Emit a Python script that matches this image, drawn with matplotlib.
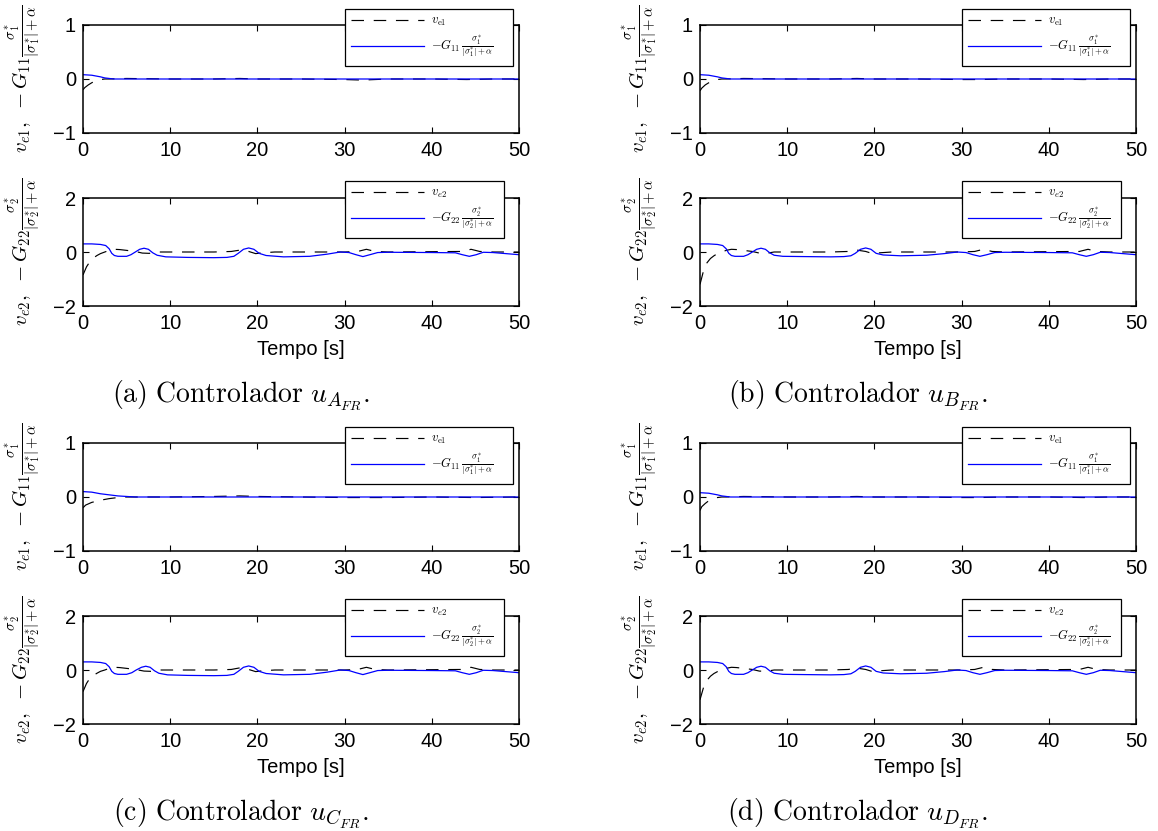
import matplotlib
matplotlib.use("Agg")
import matplotlib.pyplot as plt

plt.rcParams['mathtext.fontset'] = 'cm'
plt.rcParams['font.family'] = ['Liberation Sans', 'DejaVu Sans']
plt.rcParams['lines.scale_dashes'] = False

# ---------------- data ----------------
# top panels: v_e1 (black dashed) and -G11 term (blue)
te1_a = [0, 0.2, 0.6, 1.0, 1.5, 2.0, 2.5, 3.0, 5, 10, 15, 18, 20, 25, 30, 32, 35, 40, 44, 47, 50]
ve1_a = [-0.2, -0.16, -0.11, -0.07, -0.03, -0.01, 0.0, 0.0, 0.01, 0.0, 0.0, 0.01, 0.0, 0.0, -0.01, -0.02, 0.0, 0.0, -0.01, 0.0, 0.0]
tg1_a = [0, 1.0, 2.0, 2.5, 3.0, 3.5, 5, 10, 20, 30, 40, 50]
g1_a = [0.08, 0.07, 0.04, 0.02, 0.01, 0.0, 0.0, 0.0, 0.0, 0.0, 0.0, 0.0]

te1_b = [0, 0.2, 0.6, 1.0, 1.5, 2.0, 2.5, 3.0, 5, 10, 15, 18, 20, 25, 30, 32, 35, 40, 44, 47, 50]
ve1_b = [-0.22, -0.17, -0.11, -0.07, -0.03, -0.01, 0.0, 0.0, 0.01, 0.0, 0.0, 0.01, 0.0, 0.0, -0.01, -0.01, 0.0, 0.0, -0.01, 0.0, 0.0]
tg1_b = [0, 1.0, 2.0, 2.5, 3.0, 3.5, 5, 10, 20, 30, 40, 50]
g1_b = [0.08, 0.07, 0.04, 0.02, 0.01, 0.0, 0.0, 0.0, 0.0, 0.0, 0.0, 0.0]

te1_c = [0, 0.3, 1.0, 2.0, 3.0, 4.0, 5.0, 10, 15, 18, 20, 25, 30, 35, 40, 45, 50]
ve1_c = [-0.2, -0.15, -0.1, -0.06, -0.03, -0.01, 0.0, 0.0, 0.01, 0.02, 0.01, 0.0, -0.01, -0.01, 0.0, -0.01, 0.0]
tg1_c = [0, 1.0, 2.0, 3.0, 4.0, 5.0, 6.0, 10, 20, 30, 40, 50]
g1_c = [0.1, 0.09, 0.06, 0.04, 0.02, 0.01, 0.0, 0.0, 0.0, 0.0, 0.0, 0.0]

te1_d = [0, 0.2, 0.6, 1.0, 1.5, 2.0, 2.5, 3.0, 5, 10, 15, 18, 20, 25, 30, 32, 35, 40, 44, 47, 50]
ve1_d = [-0.25, -0.18, -0.12, -0.07, -0.03, -0.01, 0.0, 0.0, 0.01, 0.0, 0.0, 0.01, 0.0, 0.0, -0.01, -0.01, 0.0, 0.0, -0.01, 0.0, 0.0]
tg1_d = [0, 1.0, 2.0, 2.5, 3.0, 3.5, 5, 10, 20, 30, 40, 50]
g1_d = [0.08, 0.07, 0.04, 0.02, 0.01, 0.0, 0.0, 0.0, 0.0, 0.0, 0.0, 0.0]

# bottom panels: v_e2 (black dashed) and -G22 term (blue)
te2_a = [0, 0.4, 0.8, 1.2, 1.6, 2.0, 2.5, 3.0, 3.6, 4.2, 5, 6, 6.8, 7.6, 8.5, 10, 15, 17, 18, 19, 19.8, 20.6, 22, 30, 31.5, 32.5, 33.5, 35, 43.5, 44.5, 45.5, 47, 50]
ve2_a = [-0.85, -0.55, -0.35, -0.22, -0.13, -0.06, 0.0, 0.06, 0.1, 0.09, 0.06, 0.02, -0.04, -0.05, 0.0, 0.0, 0.0, 0.02, 0.07, 0.02, -0.06, -0.03, 0.0, 0.0, 0.02, 0.1, 0.02, 0.0, 0.02, 0.1, 0.02, 0.0, 0.0]
tg2_a = [0, 1, 2, 2.6, 3.0, 3.3, 3.6, 4.0, 5.0, 5.5, 6.0, 6.5, 7.0, 7.5, 8.0, 8.5, 9.5, 12, 15, 16.5, 17.3, 17.8, 18.4, 19.0, 19.6, 20.2, 21, 23, 26, 28, 29.5, 30.5, 31.3, 32.1, 32.9, 33.8, 35, 40, 42.7, 43.5, 44.3, 45.1, 45.9, 47, 50]
g2_a = [0.3, 0.3, 0.28, 0.24, 0.12, -0.05, -0.13, -0.16, -0.16, -0.1, 0.0, 0.1, 0.14, 0.1, -0.03, -0.12, -0.18, -0.2, -0.21, -0.2, -0.16, -0.05, 0.1, 0.15, 0.1, -0.05, -0.13, -0.18, -0.16, -0.08, 0.0, -0.02, -0.1, -0.17, -0.1, -0.02, -0.01, -0.02, -0.03, -0.1, -0.16, -0.1, -0.01, -0.02, -0.1]

te2_b = [0, 0.4, 0.8, 1.2, 1.6, 2.0, 2.5, 3.0, 3.6, 4.2, 5, 6, 6.8, 7.6, 8.5, 10, 15, 17, 18, 19, 19.8, 20.6, 22, 30, 31.5, 32.5, 33.5, 35, 43.5, 44.5, 45.5, 47, 50]
ve2_b = [-1.2, -0.7, -0.4, -0.24, -0.14, -0.06, 0.0, 0.06, 0.1, 0.09, 0.06, 0.02, -0.04, -0.05, 0.0, 0.0, 0.0, 0.02, 0.07, 0.02, -0.06, -0.03, 0.0, 0.0, 0.02, 0.1, 0.02, 0.0, 0.02, 0.1, 0.02, 0.0, 0.0]
tg2_b = [0, 1, 2, 2.6, 3.0, 3.3, 3.6, 4.0, 5.0, 5.5, 6.0, 6.5, 7.0, 7.5, 8.0, 8.5, 9.5, 12, 15, 16.5, 17.3, 17.8, 18.4, 19.0, 19.6, 20.2, 21, 23, 26, 28, 29.5, 30.5, 31.3, 32.1, 32.9, 33.8, 35, 40, 42.7, 43.5, 44.3, 45.1, 45.9, 47, 50]
g2_b = [0.3, 0.3, 0.28, 0.24, 0.12, -0.05, -0.13, -0.16, -0.16, -0.1, 0.0, 0.1, 0.14, 0.1, -0.03, -0.12, -0.16, -0.17, -0.18, -0.17, -0.14, -0.05, 0.1, 0.15, 0.1, -0.05, -0.11, -0.14, -0.12, -0.06, 0.0, -0.02, -0.1, -0.16, -0.1, -0.02, -0.01, -0.02, -0.03, -0.1, -0.16, -0.1, -0.01, -0.02, -0.1]

te2_c = [0, 0.4, 0.8, 1.2, 1.6, 2.0, 2.5, 3.0, 3.6, 4.2, 5, 6, 7.0, 7.8, 8.7, 10, 15, 17, 18, 19, 19.8, 20.6, 22, 30, 31.5, 32.5, 33.5, 35, 43.5, 44.5, 45.5, 47, 50]
ve2_c = [-0.8, -0.5, -0.3, -0.2, -0.12, -0.05, 0.0, 0.06, 0.1, 0.09, 0.06, 0.02, -0.04, -0.05, 0.0, 0.0, 0.0, 0.02, 0.08, 0.02, -0.06, -0.03, 0.0, 0.0, 0.02, 0.1, 0.02, 0.0, 0.02, 0.1, 0.02, 0.0, 0.0]
tg2_c = [0, 1, 2, 2.6, 3.0, 3.3, 3.6, 4.0, 5.0, 5.6, 6.1, 6.7, 7.2, 7.7, 8.2, 8.7, 9.7, 12, 15, 16.5, 17.3, 17.8, 18.4, 19.0, 19.6, 20.2, 21, 23, 26, 28, 29.5, 30.5, 31.3, 32.1, 32.9, 33.8, 35, 40, 42.7, 43.5, 44.3, 45.1, 45.9, 47, 50]
g2_c = [0.3, 0.3, 0.28, 0.24, 0.12, -0.05, -0.13, -0.16, -0.16, -0.1, 0.0, 0.1, 0.14, 0.1, -0.03, -0.12, -0.18, -0.2, -0.21, -0.2, -0.16, -0.05, 0.1, 0.15, 0.1, -0.05, -0.13, -0.18, -0.16, -0.08, 0.0, -0.02, -0.1, -0.17, -0.1, -0.02, -0.01, -0.02, -0.03, -0.1, -0.16, -0.1, -0.01, -0.02, -0.1]

te2_d = [0, 0.4, 0.8, 1.2, 1.6, 2.0, 2.5, 3.0, 3.6, 4.2, 5, 6, 6.8, 7.6, 8.5, 10, 15, 17, 18, 19, 19.8, 20.6, 22, 30, 31.5, 32.5, 33.5, 35, 43.5, 44.5, 45.5, 47, 50]
ve2_d = [-1.1, -0.65, -0.38, -0.23, -0.13, -0.06, 0.0, 0.06, 0.1, 0.09, 0.06, 0.02, -0.04, -0.05, 0.0, 0.0, 0.0, 0.02, 0.07, 0.02, -0.06, -0.03, 0.0, 0.0, 0.02, 0.1, 0.02, 0.0, 0.02, 0.1, 0.02, 0.0, 0.0]
tg2_d = [0, 1, 2, 2.6, 3.0, 3.3, 3.6, 4.0, 5.0, 5.5, 6.0, 6.5, 7.0, 7.5, 8.0, 8.5, 9.5, 12, 15, 16.5, 17.3, 17.8, 18.4, 19.0, 19.6, 20.2, 21, 23, 26, 28, 29.5, 30.5, 31.3, 32.1, 32.9, 33.8, 35, 40, 42.7, 43.5, 44.3, 45.1, 45.9, 47, 50]
g2_d = [0.3, 0.3, 0.28, 0.24, 0.12, -0.05, -0.13, -0.16, -0.16, -0.1, 0.0, 0.1, 0.14, 0.1, -0.03, -0.12, -0.16, -0.17, -0.18, -0.17, -0.14, -0.05, 0.1, 0.15, 0.1, -0.05, -0.11, -0.14, -0.12, -0.06, 0.0, -0.02, -0.1, -0.16, -0.1, -0.02, -0.01, -0.02, -0.03, -0.1, -0.16, -0.1, -0.01, -0.02, -0.1]

panel_letters = ['a', 'b', 'c', 'd']
controller_names = ['A', 'B', 'C', 'D']
x_ticks = [0, 10, 20, 30, 40, 50]
y_ticks_top = [-1, 0, 1]
y_ticks_bottom = [-2, 0, 2]
xlabel_text = 'Tempo [s]'

top_data = {
    'a': (te1_a, ve1_a, tg1_a, g1_a),
    'b': (te1_b, ve1_b, tg1_b, g1_b),
    'c': (te1_c, ve1_c, tg1_c, g1_c),
    'd': (te1_d, ve1_d, tg1_d, g1_d),
}
bottom_data = {
    'a': (te2_a, ve2_a, tg2_a, g2_a),
    'b': (te2_b, ve2_b, tg2_b, g2_b),
    'c': (te2_c, ve2_c, tg2_c, g2_c),
    'd': (te2_d, ve2_d, tg2_d, g2_d),
}

# ---------------- layout ----------------
W, H = 1158, 831
fig = plt.figure(figsize=(W / 100, H / 100), dpi=100)
fig.patch.set_facecolor('white')

col_x = [83, 700]          # axes left edge (px)
row_y = [0, 418]           # vertical offset of panel rows (px)
ax_w = 436
ax_h = 108
top_y0 = 25                # top edge of upper axes in a panel
bot_y0 = 198               # top edge of lower axes in a panel


def px_axes(x0, y0):
    return [x0 / W, 1 - (y0 + ax_h) / H, ax_w / W, ax_h / H]


def style_axes(ax, yticks, ylim):
    ax.set_xlim(0, 50)
    ax.set_ylim(*ylim)
    ax.set_xticks(x_ticks)
    ax.set_yticks(yticks)
    ax.tick_params(direction='in', length=4, width=0.8, top=True, right=True,
                   labelsize=14.5, colors='black')
    ax.tick_params(axis='x', pad=6)
    ax.tick_params(axis='y', pad=5)
    for s in ax.spines.values():
        s.set_linewidth(1.1)
        s.set_color('black')


lbl_top = r"$v_{e1},\ -G_{11}\frac{\sigma_1^{*}}{|\sigma_1^{*}|+\alpha}$"
lbl_bot = r"$v_{e2},\ -G_{22}\frac{\sigma_2^{*}}{|\sigma_2^{*}|+\alpha}$"
leg_e1 = [r"$v_{\mathrm{e1}}$", r"$-G_{11}\,\frac{\sigma_1^{*}}{|\sigma_1^{*}|+\alpha}$"]
leg_e2 = [r"$v_{e2}$", r"$-G_{22}\,\frac{\sigma_2^{*}}{|\sigma_2^{*}|+\alpha}$"]

leg_kw = dict(loc='upper left', bbox_transform=fig.transFigure, mode='expand',
              borderaxespad=0, fontsize=9, handlelength=5.8, handletextpad=0.6,
              fancybox=False, framealpha=1, edgecolor='black', borderpad=0.5,
              labelspacing=0.45)

for i, letter in enumerate(panel_letters):
    c = i % 2
    r = i // 2
    x0 = col_x[c]
    dy = row_y[r]

    # upper axes
    ax1 = fig.add_axes(px_axes(x0, top_y0 + dy))
    te, ve, tg, g = top_data[letter]
    l1, = ax1.plot(te, ve, color='black', lw=0.85, ls=(0, (9, 7)))
    l2, = ax1.plot(tg, g, color='#0000ff', lw=0.9)
    style_axes(ax1, y_ticks_top, (-1, 1))
    leg = ax1.legend([l1, l2], leg_e1,
                     bbox_to_anchor=((x0 + 262) / W, 1 - (9 + dy) / H, 168 / W, 0.0),
                     **leg_kw)
    leg.get_frame().set_linewidth(0.9)
    fig.text((x0 - 60) / W, 1 - (top_y0 + dy + ax_h / 2) / H, lbl_top,
             rotation=90, ha='center', va='center', fontsize=15)

    # lower axes
    ax2 = fig.add_axes(px_axes(x0, bot_y0 + dy))
    te, ve, tg, g = bottom_data[letter]
    m1, = ax2.plot(te, ve, color='black', lw=0.85, ls=(0, (9, 7)))
    m2, = ax2.plot(tg, g, color='#0000ff', lw=0.9)
    style_axes(ax2, y_ticks_bottom, (-2, 2))
    ax2.set_xlabel(xlabel_text, fontsize=14.5, labelpad=5)
    leg2 = ax2.legend([m1, m2], leg_e2,
                      bbox_to_anchor=((x0 + 262) / W, 1 - (181 + dy) / H, 159 / W, 0.0),
                      **leg_kw)
    leg2.get_frame().set_linewidth(0.9)
    fig.text((x0 - 60) / W, 1 - (bot_y0 + dy + ax_h / 2) / H, lbl_bot,
             rotation=90, ha='center', va='center', fontsize=15)

    # caption
    cap = r"$\mathrm{(%s)\ Controlador}\ u_{%s_{FR}}.$" % (letter, controller_names[i])
    fig.text((x0 + 158) / W, 1 - (395 + dy) / H, cap, ha='center', va='center',
             fontsize=20)

fig.savefig('out.png', dpi=100, facecolor='white')
